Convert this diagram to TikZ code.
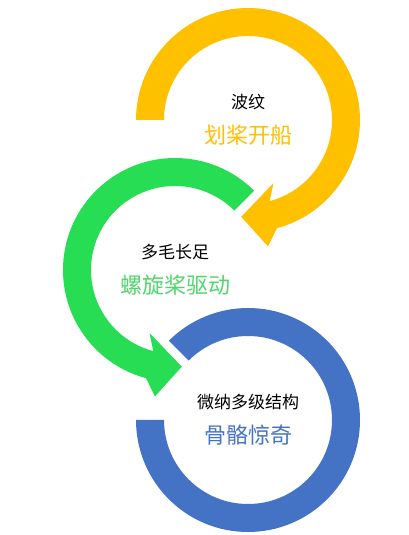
\documentclass[tikz,border=0pt]{standalone}
\usepackage{fontspec}
\setmainfont{Noto Sans CJK SC}
\usetikzlibrary{calc}
\definecolor{ylw}{HTML}{FFC000}
\definecolor{grn}{RGB}{38,221,84}
\definecolor{blu}{HTML}{4472C4}
\definecolor{grntxt}{RGB}{80,214,110}
\tikzset{
  small/.style={font=\fontsize{17}{19}\selectfont, text=black, inner sep=0pt},
  big/.style={font=\fontsize{22}{25}\selectfont, inner sep=0pt},
}
\begin{document}
\begin{tikzpicture}[x=1pt,y=1pt]
\useasboundingbox (0,0) rectangle (409,535);
\coordinate (Y) at (248,415);
\coordinate (G) at (175,265);
\coordinate (B) at (248,115);
% yellow ring with arrowhead
\fill[ylw] ($(Y)+(180:112)$) arc[start angle=180,end angle=-75,radius=112]
  -- ($(Y)+(-81:128)$) -- ($(Y)+(-94:97)$) -- ($(Y)+(-68:68)$)
  -- ($(Y)+(-75:84)$) arc[start angle=-75,end angle=180,radius=84] -- cycle;
% green ring with arrowhead
\fill[grn] ($(G)+(45:112)$) arc[start angle=45,end angle=255,radius=112]
  -- ($(G)+(261:128)$) -- ($(G)+(274:97)$) -- ($(G)+(248:68)$)
  -- ($(G)+(255:84)$) arc[start angle=255,end angle=45,radius=84] -- cycle;
% blue ring
\fill[blu] ($(B)+(180:112)$) arc[start angle=180,end angle=495,radius=112]
  -- ($(B)+(135:84)$) arc[start angle=495,end angle=180,radius=84] -- cycle;
% texts
\node[small] (y1) at ($(Y)+(0,18)$) {波纹};
\node[big, text=ylw] (y2) at ($(Y)+(0,-15)$) {划桨开船};
\node[small] (g1) at ($(G)+(0,18)$) {多毛长足};
\node[big, text=grntxt] (g2) at ($(G)+(0,-15)$) {螺旋桨驱动};
\node[small] (b1) at ($(B)+(0,18)$) {微纳多级结构};
\node[big, text=blu] (b2) at ($(B)+(0,-15)$) {骨骼惊奇};
\end{tikzpicture}
\end{document}
